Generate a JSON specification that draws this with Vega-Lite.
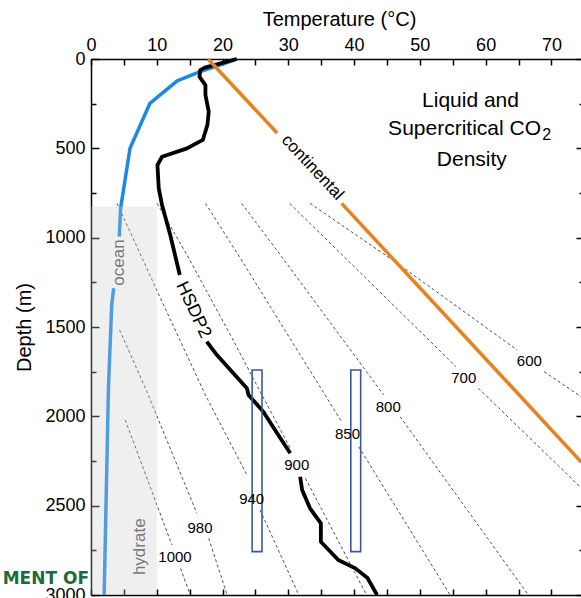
{
  "$schema": "https://vega.github.io/schema/vega-lite/v6.json",
  "width": 490,
  "height": 536,
  "autosize": {"type": "none"},
  "padding": {"left": 91, "top": 59, "right": 0, "bottom": 3},
  "background": "white",
  "config": {
    "view": {"stroke": null},
    "font": "Liberation Sans",
    "axis": {"grid": false, "domainColor": "#000", "domainWidth": 1.5, "tickColor": "#000", "tickWidth": 1.5, "labelColor": "#000", "titleColor": "#000", "labelFont": "Liberation Sans", "titleFont": "Liberation Sans", "labelFontSize": 18, "titleFontSize": 20, "titleFontWeight": "normal", "labelFlush": false, "labelOverlap": false},
    "text": {"font": "Liberation Sans"}
  },
  "datasets": {
    "contours": [
      {"k": "1000a", "T": 5.2, "D": 2020}, {"k": "1000a", "T": 12.3, "D": 2720},
      {"k": "1000b", "T": 13.6, "D": 2851}, {"k": "1000b", "T": 15.1, "D": 3000},
      {"k": "980a", "T": 4.35, "D": 1517}, {"k": "980a", "T": 8.5, "D": 1862}, {"k": "980a", "T": 16.1, "D": 2543},
      {"k": "980b", "T": 17.9, "D": 2683}, {"k": "980b", "T": 20.7, "D": 3000},
      {"k": "940a", "T": 3.96, "D": 808}, {"k": "940a", "T": 10.1, "D": 1302}, {"k": "940a", "T": 17.4, "D": 1881}, {"k": "940a", "T": 23.7, "D": 2328},
      {"k": "940b", "T": 25.7, "D": 2524}, {"k": "940b", "T": 31.6, "D": 3000},
      {"k": "900a", "T": 10.05, "D": 808}, {"k": "900a", "T": 14.6, "D": 1097}, {"k": "900a", "T": 21.2, "D": 1545}, {"k": "900a", "T": 26.0, "D": 1881}, {"k": "900a", "T": 30.3, "D": 2179},
      {"k": "900b", "T": 32.6, "D": 2347}, {"k": "900b", "T": 41.9, "D": 3000},
      {"k": "850a", "T": 17.4, "D": 808}, {"k": "850a", "T": 22.4, "D": 1097}, {"k": "850a", "T": 38.1, "D": 2030},
      {"k": "850b", "T": 40.7, "D": 2170}, {"k": "850b", "T": 54.6, "D": 3000},
      {"k": "800a", "T": 22.9, "D": 808}, {"k": "800a", "T": 28.8, "D": 1097}, {"k": "800a", "T": 44.5, "D": 1880},
      {"k": "800b", "T": 47.0, "D": 2002}, {"k": "800b", "T": 66.5, "D": 3000},
      {"k": "700a", "T": 30.2, "D": 808}, {"k": "700a", "T": 55.5, "D": 1722},
      {"k": "700b", "T": 58.9, "D": 1843}, {"k": "700b", "T": 72.0, "D": 2310}, {"k": "700b", "T": 74.5, "D": 2400},
      {"k": "600a", "T": 33.3, "D": 808}, {"k": "600a", "T": 46.2, "D": 1134}, {"k": "600a", "T": 64.8, "D": 1629},
      {"k": "600b", "T": 68.9, "D": 1750}, {"k": "600b", "T": 74.5, "D": 1890}
    ],
    "ocean": [
      {"s": "a", "T": 22.15, "D": 0}, {"s": "a", "T": 19.9, "D": 30}, {"s": "a", "T": 16.6, "D": 71}, {"s": "a", "T": 13.1, "D": 123}, {"s": "a", "T": 8.97, "D": 248}, {"s": "a", "T": 5.93, "D": 500}, {"s": "a", "T": 4.5, "D": 836}, {"s": "a", "T": 4.3, "D": 994},
      {"s": "b", "T": 3.45, "D": 1283}, {"s": "b", "T": 3.15, "D": 1377}, {"s": "b", "T": 2.65, "D": 1843}, {"s": "b", "T": 2.0, "D": 3000}
    ],
    "hsdp2": [
      {"s": "a", "T": 22.15, "D": 0}, {"s": "a", "T": 17.3, "D": 48}, {"s": "a", "T": 16.6, "D": 62}, {"s": "a", "T": 16.5, "D": 100}, {"s": "a", "T": 17.4, "D": 146}, {"s": "a", "T": 17.4, "D": 201}, {"s": "a", "T": 17.9, "D": 295}, {"s": "a", "T": 17.7, "D": 369}, {"s": "a", "T": 17.0, "D": 453}, {"s": "a", "T": 14.6, "D": 500}, {"s": "a", "T": 10.8, "D": 547}, {"s": "a", "T": 10.1, "D": 593}, {"s": "a", "T": 10.3, "D": 724}, {"s": "a", "T": 10.8, "D": 817}, {"s": "a", "T": 12.05, "D": 985}, {"s": "a", "T": 13.5, "D": 1209},
      {"s": "b", "T": 17.6, "D": 1582}, {"s": "b", "T": 19.15, "D": 1657}, {"s": "b", "T": 23.7, "D": 1843}, {"s": "b", "T": 23.95, "D": 1881}, {"s": "b", "T": 26.2, "D": 1974}, {"s": "b", "T": 28.3, "D": 2095}, {"s": "b", "T": 30.3, "D": 2207},
      {"s": "c", "T": 31.8, "D": 2338}, {"s": "c", "T": 32.1, "D": 2412}, {"s": "c", "T": 33.3, "D": 2515}, {"s": "c", "T": 34.95, "D": 2599}, {"s": "c", "T": 34.95, "D": 2702}, {"s": "c", "T": 37.6, "D": 2804}, {"s": "c", "T": 40.2, "D": 2851}, {"s": "c", "T": 42.0, "D": 2903}, {"s": "c", "T": 43.5, "D": 3000}
    ],
    "continental": [
      {"s": "a", "T": 17.8, "D": 0}, {"s": "a", "T": 28.3, "D": 414},
      {"s": "b", "T": 38.1, "D": 808}, {"s": "b", "T": 74.5, "D": 2254}
    ],
    "boxes": [
      {"T": 24.5, "T2": 26.0, "D": 1741, "D2": 2757},
      {"T": 39.5, "T2": 41.0, "D": 1741, "D2": 2757}
    ],
    "contourLabels": [
      {"txt": "1000", "T": 12.77, "D": 2786},
      {"txt": "980", "T": 16.57, "D": 2627},
      {"txt": "940", "T": 24.43, "D": 2463},
      {"txt": "900", "T": 31.28, "D": 2272},
      {"txt": "850", "T": 39.0, "D": 2099},
      {"txt": "800", "T": 45.2, "D": 1946},
      {"txt": "700", "T": 56.67, "D": 1784},
      {"txt": "600", "T": 66.64, "D": 1689}
    ],
    "grayLabels": [
      {"txt": "ocean", "T": 4.3, "D": 1139},
      {"txt": "hydrate", "T": 7.45, "D": 2730}
    ],
    "titleCentered": [
      {"txt": "Liquid and", "T": 57.7, "D": 267},
      {"txt": "Density", "T": 57.9, "D": 600}
    ],
    "titleRight": [
      {"txt": "Supercritical CO", "T": 68.42, "D": 425}
    ],
    "titleSub": [
      {"txt": "2", "T": 68.6, "D": 453}
    ]
  },
  "encoding": {
    "x": {"field": "T", "type": "quantitative", "scale": {"domain": [0, 74.5], "nice": false, "zero": false}, "axis": null},
    "y": {"field": "D", "type": "quantitative", "scale": {"domain": [0, 3000], "reverse": true, "nice": false, "zero": false}, "axis": null}
  },
  "layer": [
    {
      "data": {"name": "contours"},
      "mark": {"type": "line", "stroke": "#222", "strokeWidth": 0.8, "strokeDash": [3, 2.5]},
      "encoding": {
        "x": {"field": "T", "type": "quantitative", "scale": {"domain": [0, 74.5], "nice": false, "zero": false},
          "axis": {"orient": "top", "values": [0, 5, 10, 15, 20, 25, 30, 35, 40, 45, 50, 55, 60, 65, 70], "labelExpr": "datum.value % 10 === 0 ? datum.label : ''", "title": "Temperature (°C)", "tickSize": -6, "labelPadding": 11, "titlePadding": 7, "titleX": 248}},
        "y": {"field": "D", "type": "quantitative", "scale": {"domain": [0, 3000], "reverse": true, "nice": false, "zero": false},
          "axis": {"orient": "left", "values": [0, 250, 500, 750, 1000, 1250, 1500, 1750, 2000, 2250, 2500, 2750, 3000], "format": "d", "labelExpr": "datum.value % 500 === 0 ? datum.label : ''", "title": "Depth (m)", "tickSize": {"condition": {"test": "datum.value % 500 === 0", "value": -8}, "value": -5}, "labelPadding": 14, "titlePadding": 10}},
        "detail": {"field": "k"},
        "order": {"field": "D", "type": "quantitative"}
      }
    },
    {
      "data": {"name": "ocean"},
      "mark": {"type": "line", "stroke": "#1e88e5", "strokeWidth": 3.5, "strokeJoin": "round"},
      "encoding": {
        "x": {"field": "T", "type": "quantitative", "scale": {"domain": [0, 74.5], "nice": false, "zero": false},
          "axis": {"orient": "bottom", "values": [0, 5, 10, 15, 20, 25, 30, 35, 40, 45, 50, 55, 60, 65, 70], "labels": false, "title": null, "tickSize": -6}},
        "y": {"field": "D", "type": "quantitative", "scale": {"domain": [0, 3000], "reverse": true, "nice": false, "zero": false},
          "axis": {"orient": "right", "values": [0, 250, 500, 750, 1000, 1250, 1500, 1750, 2000, 2250, 2500, 2750, 3000], "labels": false, "title": null, "domain": false, "tickSize": {"condition": {"test": "datum.value % 500 === 0", "value": -5}, "value": -2}}},
        "detail": {"field": "s"},
        "order": {"field": "D", "type": "quantitative"}
      }
    },
    {
      "data": {"name": "grayLabels"},
      "mark": {"type": "text", "angle": 270, "fontSize": 17, "color": "#555"},
      "encoding": {"text": {"field": "txt"}}
    },
    {
      "data": {"values": [{"T": 0, "T2": 10, "D": 826, "D2": 3000}]},
      "mark": {"type": "rect", "fill": "#cacaca", "opacity": 0.3},
      "encoding": {"x2": {"field": "T2"}, "y2": {"field": "D2"}}
    },
    {
      "data": {"name": "hsdp2"},
      "mark": {"type": "line", "stroke": "#000", "strokeWidth": 3.8, "strokeJoin": "round"},
      "encoding": {"detail": {"field": "s"}, "order": {"field": "D", "type": "quantitative"}}
    },
    {
      "data": {"name": "continental"},
      "mark": {"type": "line", "stroke": "#e8821e", "strokeWidth": 3.5},
      "encoding": {"detail": {"field": "s"}, "order": {"field": "D", "type": "quantitative"}}
    },
    {
      "data": {"name": "boxes"},
      "mark": {"type": "rect", "fillOpacity": 0, "stroke": "#3d5a98", "strokeWidth": 1.6},
      "encoding": {"x2": {"field": "T2"}, "y2": {"field": "D2"}}
    },
    {
      "data": {"name": "contourLabels"},
      "mark": {"type": "text", "fontSize": 15, "color": "#000"},
      "encoding": {"text": {"field": "txt"}}
    },
    {
      "data": {"values": [{"txt": "HSDP2", "T": 15.55, "D": 1405}]},
      "mark": {"type": "text", "fontSize": 18, "angle": 65, "color": "#000"},
      "encoding": {"text": {"field": "txt"}}
    },
    {
      "data": {"values": [{"txt": "continental", "T": 33.68, "D": 607}]},
      "mark": {"type": "text", "fontSize": 17, "angle": 47, "color": "#000"},
      "encoding": {"text": {"field": "txt"}}
    },
    {
      "data": {"name": "titleCentered"},
      "mark": {"type": "text", "fontSize": 21, "baseline": "alphabetic", "color": "#000"},
      "encoding": {"text": {"field": "txt"}}
    },
    {
      "data": {"name": "titleRight"},
      "mark": {"type": "text", "fontSize": 21, "baseline": "alphabetic", "align": "right", "color": "#000"},
      "encoding": {"text": {"field": "txt"}}
    },
    {
      "data": {"name": "titleSub"},
      "mark": {"type": "text", "fontSize": 16, "baseline": "alphabetic", "align": "left", "color": "#000"},
      "encoding": {"text": {"field": "txt"}}
    },
    {
      "data": {"values": [{"txt": "MENT OF", "T": -0.3, "D": 2910}]},
      "mark": {"type": "text", "fontSize": 17, "font": "DejaVu Sans", "fontWeight": "bold", "align": "right", "color": "#1c6b3c"},
      "encoding": {"text": {"field": "txt"}}
    }
  ]
}
